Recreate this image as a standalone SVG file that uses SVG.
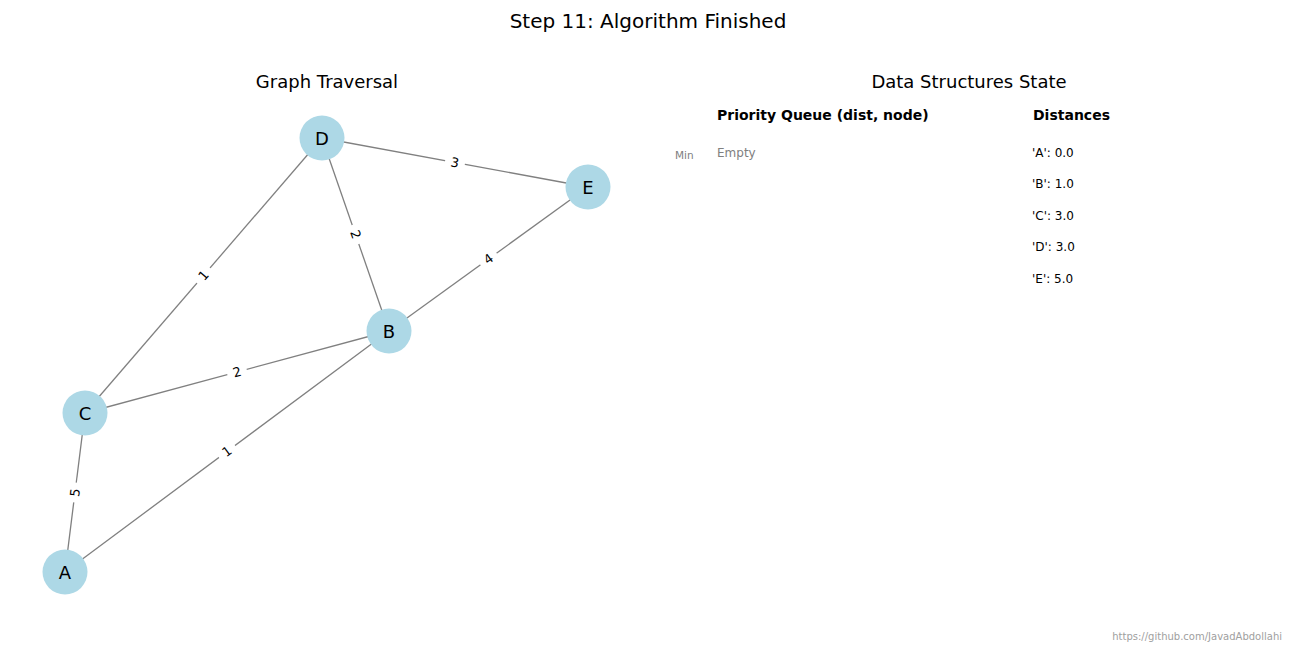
<svg xmlns="http://www.w3.org/2000/svg" width="1296" height="648" viewBox="0 0 1296 648">
<style>
text{font-family:"DejaVu Sans","Liberation Sans",sans-serif;fill:#000}
.edge{stroke:#808080;stroke-width:1.3;fill:none}
.node circle{fill:#ADD8E6}
.nl{font-size:18px;text-anchor:middle;dominant-baseline:central}
.el{font-size:13px;text-anchor:middle;dominant-baseline:central}
.ds{font-size:12px}
</style>
<defs>
<rect id="lb" x="-10" y="-9" width="20" height="18" fill="#ffffff"/>
</defs>
<rect width="1296" height="648" fill="#fff"/>
<text x="648" y="28" font-size="20" text-anchor="middle">Step 11: Algorithm Finished</text>
<text x="327" y="88" font-size="18" text-anchor="middle">Graph Traversal</text>
<text x="969" y="88" font-size="18" text-anchor="middle">Data Structures State</text>
<g id="connectors">
<line class="edge" x1="322" y1="138" x2="85" y2="413"/>
<line class="edge" x1="322" y1="138" x2="588" y2="187"/>
<line class="edge" x1="322" y1="138" x2="389" y2="331"/>
<line class="edge" x1="588" y1="187" x2="389" y2="331"/>
<line class="edge" x1="389" y1="331" x2="85" y2="413"/>
<line class="edge" x1="389" y1="331" x2="65" y2="572"/>
<line class="edge" x1="85" y1="413" x2="65" y2="572"/>
<g transform="translate(203.5,275.5) rotate(-49.2)"><use href="#lb"/><text class="el">1</text></g>
<g transform="translate(455,162.5) rotate(10.4)"><use href="#lb"/><text class="el">3</text></g>
<g transform="translate(355.5,234.5) rotate(70.9)"><use href="#lb"/><text class="el">2</text></g>
<g transform="translate(488.5,259) rotate(-35.9)"><use href="#lb"/><text class="el">4</text></g>
<g transform="translate(237,372) rotate(-15.1)"><use href="#lb"/><text class="el">2</text></g>
<g transform="translate(227,451.5) rotate(-36.6)"><use href="#lb"/><text class="el">1</text></g>
<g transform="translate(75,492.5) rotate(-82.8)"><use href="#lb"/><text class="el">5</text></g>
</g>
<g id="node-D" class="node"><circle cx="322" cy="138" r="22.5"/><text class="nl" x="322" y="138">D</text></g>
<g id="node-E" class="node"><circle cx="588" cy="187" r="22.5"/><text class="nl" x="588" y="187">E</text></g>
<g id="node-B" class="node"><circle cx="389" cy="331" r="22.5"/><text class="nl" x="389" y="331">B</text></g>
<g id="node-C" class="node"><circle cx="85" cy="413" r="22.5"/><text class="nl" x="85" y="413">C</text></g>
<g id="node-A" class="node"><circle cx="65" cy="572" r="22.5"/><text class="nl" x="65" y="572">A</text></g>
<text x="717" y="120" font-size="14" font-weight="bold">Priority Queue (dist, node)</text>
<text x="1033" y="120" font-size="14" font-weight="bold">Distances</text>
<text x="675" y="159" font-size="10.5" style="fill:#808080">Min</text>
<text x="717" y="157" font-size="12" style="fill:#808080">Empty</text>
<text class="ds" x="1032" y="157">'A': 0.0</text>
<text class="ds" x="1032" y="188">'B': 1.0</text>
<text class="ds" x="1032" y="220">'C': 3.0</text>
<text class="ds" x="1032" y="251">'D': 3.0</text>
<text class="ds" x="1032" y="283">'E': 5.0</text>
<text x="1282" y="640" font-size="10" text-anchor="end" style="fill:#a0a0a0">https://github.com/JavadAbdollahi</text>
</svg>
